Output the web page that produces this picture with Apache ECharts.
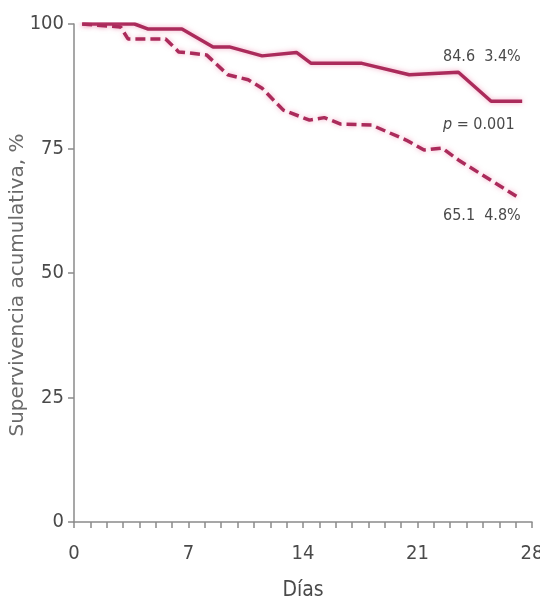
<!DOCTYPE html>
<html>
<head>
<meta charset="utf-8">
<script src="https://cdn.jsdelivr.net/npm/echarts@6/dist/echarts.min.js"></script>
<style>
html,body{margin:0;padding:0;background:#fff;}
#c{width:540px;height:606px;}
</style>
</head>
<body>
<div id="c"></div>
<script>
// Data
var xTickLabels = [0, 7, 14, 21, 28];
var yTickLabels = [0, 25, 50, 75, 100];
var solidDays = [0.5, 3.7, 4.5, 6.6, 8.5, 9.5, 11.5, 13.6, 14.5, 17.6, 20.5, 23.5, 25.5, 27.4];
var solidVals = [100, 100, 99.0, 99.0, 95.4, 95.4, 93.6, 94.3, 92.1, 92.1, 89.8, 90.3, 84.5, 84.5];
var dashedDays = [0.5, 2.85, 3.3, 5.6, 6.4, 8.1, 9.4, 10.65, 11.5, 12.8, 14.4, 15.3, 16.3, 18.2, 20.3, 21.4, 22.5, 23.5, 27.1];
var dashedVals = [100, 99.4, 97.0, 97.0, 94.4, 93.8, 89.8, 88.8, 87.1, 82.7, 80.7, 81.2, 79.9, 79.7, 76.7, 74.7, 75.1, 72.7, 65.3];
var annotSolid = '84.6  3.4%';
var annotP = '0.001';
var annotDashed = '65.1  4.8%';

function pairs(xs, ys){ return xs.map(function(x,i){ return [x, ys[i]]; }); }

var lineColor = '#ab2b5b';
var axisColor = '#8a8a8a';
var textColor = '#4a4a4a';
var narrow = '"Liberation Sans Narrow", "DejaVu Sans Condensed", "Arial Narrow", "Liberation Sans", sans-serif';

var chart = echarts.init(document.getElementById('c'), null, {renderer:'canvas'});
chart.setOption({
  animation: false,
  backgroundColor: '#ffffff',
  grid: {left: 74, right: 8, top: 24, bottom: 84, containLabel: false, outerBoundsMode: 'none'},
  xAxis: {
    type: 'value', min: 0, max: 28, interval: 1,
    name: 'Días', nameLocation: 'middle', nameGap: 58, nameMoveOverlap: false,
    nameTextStyle: {fontFamily: narrow, fontSize: 21, color: textColor},
    axisLine: {show: true, lineStyle: {color: axisColor, width: 1.5}},
    axisTick: {show: true, inside: false, length: 6, lineStyle: {color: axisColor, width: 1.5}},
    splitLine: {show: false},
    axisLabel: {
      show: true, margin: 22, fontFamily: narrow, fontSize: 20, color: textColor,
      showMinLabel: true, showMaxLabel: true, hideOverlap: false,
      formatter: function(v){ return xTickLabels.indexOf(v) >= 0 ? String(v) : ''; }
    }
  },
  yAxis: {
    type: 'value', min: 0, max: 100, interval: 25,
    name: 'Supervivencia acumulativa, %', nameLocation: 'middle', nameGap: 46, nameRotate: 90, nameMoveOverlap: false,
    nameTextStyle: {fontFamily: '"DejaVu Sans", sans-serif', fontSize: 20, color: '#6a6a6a', padding: [0, 24, 0, 0]},
    axisLine: {show: true, lineStyle: {color: axisColor, width: 1.5}},
    axisTick: {show: true, inside: false, length: 6, lineStyle: {color: axisColor, width: 1.5}},
    splitLine: {show: false},
    axisLabel: {
      show: true, margin: 10, fontFamily: narrow, fontSize: 20, color: textColor,
      formatter: function(v){ return yTickLabels.indexOf(v) >= 0 ? String(v) : ''; }
    }
  },
  series: [
    {
      type: 'line', data: pairs(solidDays, solidVals), showSymbol: false, symbol: 'none',
      lineStyle: {color: lineColor, width: 3.5, type: 'solid', shadowColor: 'rgba(230,90,140,0.5)', shadowBlur: 5},
      z: 3
    },
    {
      type: 'line', data: pairs(dashedDays, dashedVals), showSymbol: false, symbol: 'none',
      lineStyle: {color: lineColor, width: 3.5, type: [10, 5], shadowColor: 'rgba(230,90,140,0.5)', shadowBlur: 5},
      z: 3
    }
  ],
  graphic: [
    {type: 'text', left: 443, top: 49, style: {text: annotSolid, fontFamily: narrow, fontSize: 16, fill: textColor}},
    {type: 'text', left: 443, top: 117, style: {
      text: '{i|p} = ' + annotP,
      fontFamily: narrow, fontSize: 16, fill: textColor,
      rich: {i: {fontFamily: narrow, fontStyle: 'italic', fontSize: 16, color: textColor}}
    }},
    {type: 'text', left: 443, top: 208, style: {text: annotDashed, fontFamily: narrow, fontSize: 16, fill: textColor}}
  ]
});
</script>
</body>
</html>
